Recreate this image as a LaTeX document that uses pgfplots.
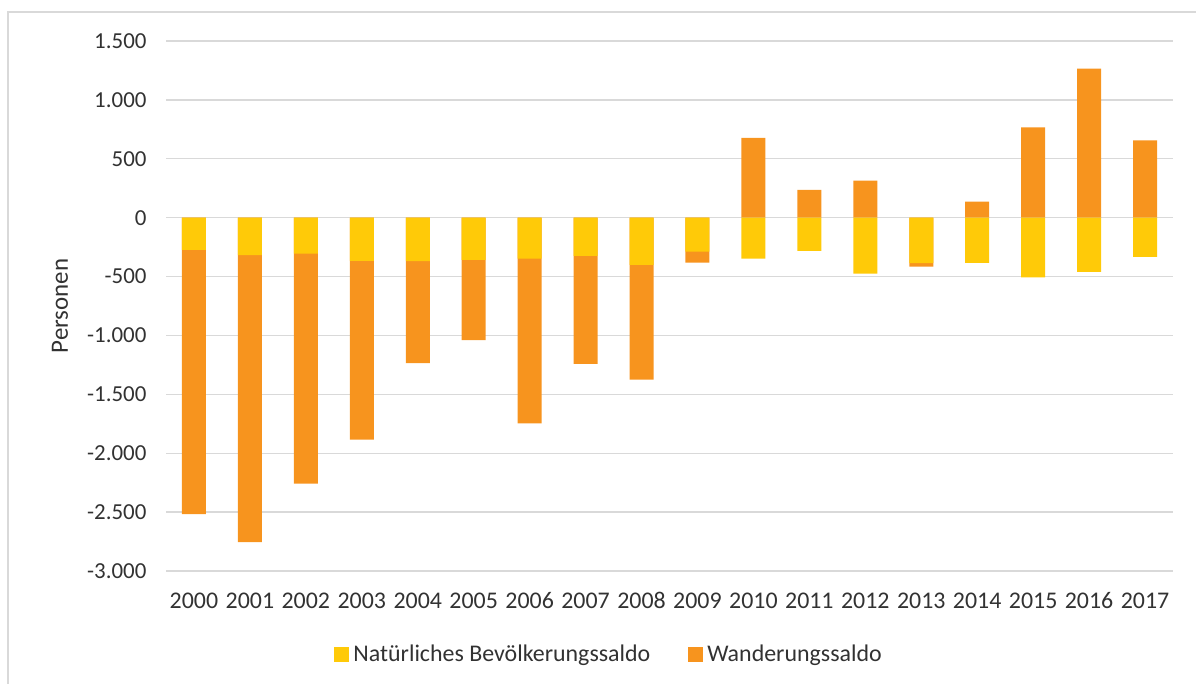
\documentclass[border=0pt]{standalone}
\usepackage{pgfplots}
\usepackage{pgfplotstable}
\pgfplotsset{compat=1.18}
\usepackage{fontspec}
\setmainfont{Carlito}
\definecolor{natcol}{RGB}{255,202,8}
\definecolor{wancol}{RGB}{247,148,30}
\definecolor{gridcol}{RGB}{217,217,217}
\definecolor{txtcol}{RGB}{50,50,50}
\pgfplotstableread{
x year nat wan
0 2000 -274 -2243
1 2001 -319 -2435
2 2002 -305 -1954
3 2003 -367 -1517
4 2004 -370 -864
5 2005 -358 -681
6 2006 -347 -1399
7 2007 -325 -917
8 2008 -401 -974
9 2009 -288 -93
10 2010 -347 678
11 2011 -282 235
12 2012 -475 314
13 2013 -387 -28
14 2014 -384 136
15 2015 -508 766
16 2016 -460 1266
17 2017 -333 656
}\datatable
\begin{document}
\begin{tikzpicture}
\useasboundingbox (0bp,0bp) rectangle (1196bp,684bp);
\draw[gridcol, line width=1.5bp] (8bp,0bp) -- (8bp,672bp) -- (1196bp,672bp);
\begin{axis}[
  at={(166bp,113bp)}, anchor=south west,
  scale only axis, width=1007bp, height=530bp,
  xmin=-0.5, xmax=17.5, ymin=-3000, ymax=1500,
  ytick={-3000,-2500,...,1500},
  xtick={0,...,17},
  xticklabels={2000,2001,2002,2003,2004,2005,2006,2007,2008,2009,2010,2011,2012,2013,2014,2015,2016,2017},
  ymajorgrids, grid style={gridcol, line width=1.3bp},
  axis line style={draw=none}, major tick length=0pt,
  yticklabel style={font=\fontsize{23}{27}\selectfont, text=txtcol, xshift=-16bp},
  xticklabel style={font=\fontsize{24}{28}\selectfont, text=txtcol, yshift=-18bp},
  /pgf/number format/.cd, use comma, 1000 sep={.}, assume math mode=true,
  /pgfplots/.cd,
  reverse legend,
  legend style={at={(0.44,-0.157)}, anchor=center, draw=none, fill=none,
    legend columns=2, font=\fontsize{24}{28}\selectfont, text=txtcol,
    /tikz/every even column/.append style={column sep=36bp}},
]
\addplot[ybar, bar shift=0pt, bar width=24bp, fill=wancol, draw=none,
  legend image code/.code={\fill[wancol] (0bp,-7.5bp) rectangle (15bp,7.5bp); \path (17bp,0bp);}]
  table[x=x, y expr={\thisrow{wan}<0 ? \thisrow{nat}+\thisrow{wan} : \thisrow{wan}}] \datatable;
\addlegendentry{Wanderungssaldo}
\addplot[ybar, bar shift=0pt, bar width=24bp, fill=natcol, draw=none,
  legend image code/.code={\fill[natcol] (0bp,-7.5bp) rectangle (15bp,7.5bp); \path (17bp,0bp);}]
  table[x=x, y=nat] \datatable;
\addlegendentry{Natürliches Bevölkerungssaldo}
\end{axis}
\node[rotate=90, text=txtcol, font=\fontsize{25}{29}\selectfont] at (60bp,378bp) {Personen};
\end{tikzpicture}
\end{document}
